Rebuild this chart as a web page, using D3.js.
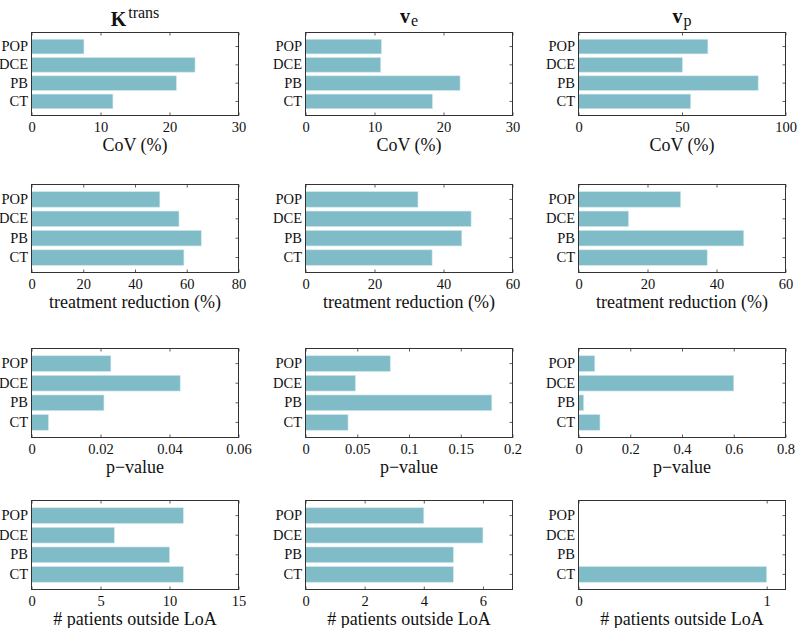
<!DOCTYPE html>
<html>
<head>
<meta charset="utf-8">
<script src="https://cdn.jsdelivr.net/npm/d3@7"></script>
<style>
  html, body { margin: 0; padding: 0; background: #fff; }
  svg { display: block; }
  text { font-family: "Liberation Serif", "Times New Roman", serif; fill: #111; }
</style>
</head>
<body>
<svg id="chart" width="798" height="628"></svg>
<script>
// ---------- data (categories bottom -> top order: CT, PB, DCE, POP) ----------
const categories = ["CT", "PB", "DCE", "POP"];

// Row 1: CoV (%)
const ktransCoV = [11.8, 21.0, 23.7, 7.6];
const veCoV     = [18.4, 22.4, 10.9, 11.0];
const vpCoV     = [54.2, 86.8, 50.2, 62.5];

// Row 2: treatment reduction (%)
const ktransReduction = [58.9, 65.6, 57.0, 49.6];
const veReduction     = [36.7, 45.3, 48.0, 32.6];
const vpReduction     = [37.3, 47.9, 14.5, 29.6];

// Row 3: p-value
const ktransP = [0.0049, 0.0210, 0.0431, 0.0230];
const veP     = [0.0411, 0.180, 0.0482, 0.0819];
const vpP     = [0.083, 0.020, 0.600, 0.063];

// Row 4: # patients outside LoA
const ktransLoA = [11, 10, 6, 11];
const veLoA     = [5, 5, 6, 4];
const vpLoA     = [1, 0, 0, 0];

// Axis domains and tick labels
const domCoV = [[0, 30], [0, 30], [0, 100]];
const ticksCoV = [[0, 10, 20, 30], [0, 10, 20, 30], [0, 50, 100]];
const domReduction = [[0, 80], [0, 60], [0, 60]];
const ticksReduction = [[0, 20, 40, 60, 80], [0, 20, 40, 60], [0, 20, 40, 60]];
const domP = [[0, 0.06], [0, 0.2], [0, 0.8]];
const ticksP = [[0, 0.02, 0.04, 0.06], [0, 0.05, 0.1, 0.15, 0.2], [0, 0.2, 0.4, 0.6, 0.8]];
const domLoA = [[0, 15], [0, 7], [0, 1.1]];
const ticksLoA = [[0, 5, 10, 15], [0, 2, 4, 6], [0, 1]];

const rowLabels = ["CoV (%)", "treatment reduction (%)", "p\u2212value", "# patients outside LoA"];

// ---------- layout ----------
const colLeft = [31.5, 305.5, 578.5];
const plotW = 207;
const rowTop = [32.5, 184.5, 348.5, 500.5];
const rowBottom = [115.5, 272.5, 437.5, 589.5];
const barColor = "#80bcc8";

const rows = [
  { values: [ktransCoV, veCoV, vpCoV], doms: domCoV, ticks: ticksCoV },
  { values: [ktransReduction, veReduction, vpReduction], doms: domReduction, ticks: ticksReduction },
  { values: [ktransP, veP, vpP], doms: domP, ticks: ticksP },
  { values: [ktransLoA, veLoA, vpLoA], doms: domLoA, ticks: ticksLoA }
];

const svg = d3.select("#chart");
const fmt = d3.format("~g");

rows.forEach((row, r) => {
  row.values.forEach((vals, c) => {
    const x0 = colLeft[c], y0 = rowTop[r], y1 = rowBottom[r];
    const g = svg.append("g");
    const x = d3.scaleLinear().domain(row.doms[c]).range([x0, x0 + plotW]);
    const y = d3.scaleBand()
      .domain(categories.slice().reverse())   // POP at top
      .range([y0, y1])
      .paddingInner(0.2)
      .paddingOuter(0.37);

    // bars
    g.selectAll("rect.bar")
      .data(categories.map((cat, i) => ({ cat, v: vals[i] })))
      .join("rect")
      .attr("class", "bar")
      .attr("x", x(0))
      .attr("y", d => y(d.cat))
      .attr("width", d => Math.max(0, x(d.v) - x(0)))
      .attr("height", y.bandwidth())
      .attr("fill", barColor)
      .attr("stroke", "#cfe6ea")
      .attr("stroke-width", 0.6);

    // axes (ticks pointing inward)
    const axB = g.append("g").attr("transform", `translate(0,${y1})`)
      .call(d3.axisBottom(x).tickValues(row.ticks[c]).tickFormat(fmt).tickSize(-3).tickPadding(6));
    const axT = g.append("g").attr("transform", `translate(0,${y0})`)
      .call(d3.axisTop(x).tickValues(row.ticks[c]).tickFormat("").tickSize(-3));
    const axL = g.append("g").attr("transform", `translate(${x0},0)`)
      .call(d3.axisLeft(y).tickSize(-3).tickPadding(3.5));
    const axR = g.append("g").attr("transform", `translate(${x0 + plotW},0)`)
      .call(d3.axisRight(y).tickFormat("").tickSize(-3));

    [axB, axT, axL, axR].forEach(a => {
      a.select(".domain").remove();
      a.selectAll("line").attr("stroke", "#333").attr("stroke-width", 0.8);
      a.selectAll("text").attr("font-family", "Liberation Serif, serif")
        .attr("font-size", 14.5).attr("fill", "#111");
    });
    axL.selectAll(".tick line").remove();

    // box
    g.append("rect")
      .attr("x", x0).attr("y", y0)
      .attr("width", plotW).attr("height", y1 - y0)
      .attr("fill", "none").attr("stroke", "#333").attr("stroke-width", 1);

    // x label
    g.append("text")
      .attr("x", x0 + plotW / 2)
      .attr("y", y1 + 35.5)
      .attr("text-anchor", "middle")
      .attr("font-size", 18)
      .text(rowLabels[r]);
  });
});

// ---------- titles ----------
const cx = c => colLeft[c] + plotW / 2;

const t1 = svg.append("text").attr("x", cx(0)).attr("y", 26).attr("text-anchor", "middle");
t1.append("tspan").attr("font-weight", "bold").attr("font-size", 20).text("K");
t1.append("tspan").attr("font-size", 16).attr("dx", 2).attr("dy", -8).text("trans");

const t2 = svg.append("text").attr("x", cx(1)).attr("y", 22.5).attr("text-anchor", "middle");
t2.append("tspan").attr("font-weight", "bold").attr("font-size", 20).text("v");
t2.append("tspan").attr("font-size", 16).attr("dx", 1).attr("dy", 3.5).text("e");

const t3 = svg.append("text").attr("x", cx(2)).attr("y", 22.5).attr("text-anchor", "middle");
t3.append("tspan").attr("font-weight", "bold").attr("font-size", 20).text("v");
t3.append("tspan").attr("font-size", 16).attr("dx", 1).attr("dy", 3.5).text("p");
</script>
</body>
</html>
